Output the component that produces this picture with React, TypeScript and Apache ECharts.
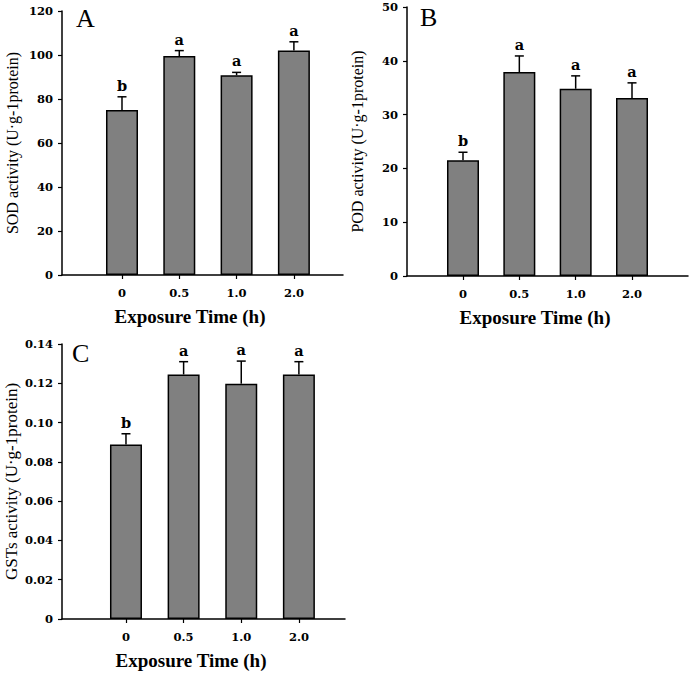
import React, { useEffect, useRef } from "react";
import * as echarts from "echarts";

const categories = ["0", "0.5", "1.0", "2.0"];

const sodMean = [75, 99.5, 90.8, 102.1];
const sodSD = [6, 2.5, 1.3, 3.9];
const sodLetters = ["b", "a", "a", "a"];

const podMean = [21.5, 37.9, 34.8, 33.1];
const podSD = [1.5, 3.0, 2.4, 2.8];
const podLetters = ["b", "a", "a", "a"];

const gstMean = [0.0888, 0.1245, 0.1198, 0.1245];
const gstSD = [0.0055, 0.0065, 0.0115, 0.0065];
const gstLetters = ["b", "a", "a", "a"];

const panelLetters = ["A", "B", "C"];
const yTitles = [
  "SOD activity (U·g-1protein)",
  "POD activity (U·g-1protein)",
  "GSTs activity (U·g-1protein)",
];
const xTitle = "Exposure Time (h)";

const SERIF = "'Liberation Serif', 'Times New Roman', serif";
const TICKFONT = "'DejaVu Serif', serif";

export default function App() {
  const ref = useRef<HTMLDivElement>(null);
  useEffect(() => {
    document.body.style.margin = "0";
    const chart = echarts.init(ref.current!, null, { renderer: "svg" });

    const panels = [
      { mean: sodMean, sd: sodSD, letters: sodLetters, ymax: 120, interval: 20, xmin: -1.047, xmax: 3.857, titleSize: 16 },
      { mean: podMean, sd: podSD, letters: podLetters, ymax: 50, interval: 10, xmin: -0.994, xmax: 3.994, titleSize: 16 },
      { mean: gstMean, sd: gstSD, letters: gstLetters, ymax: 0.14, interval: 0.02, xmin: -1.11, xmax: 3.8, titleSize: 17 },
    ];
    const grids = [
      { left: 62, top: 11, width: 281, height: 264 },
      { left: 407, top: 7, width: 281, height: 269 },
      { left: 62, top: 344, width: 283, height: 275 },
    ];
    const letterPos = [
      [76, 18.5],
      [420, 17],
      [72, 353.5],
    ];

    const axisLine = { show: true, onZero: false, lineStyle: { color: "#000", width: 1.5 } };

    const option: any = {
      animation: false,
      backgroundColor: "#fff",
      grid: grids.map((g) => ({ ...g, containLabel: false })),
      xAxis: panels.map((p, i) => ({
        type: "value",
        gridIndex: i,
        min: p.xmin,
        max: p.xmax,
        splitLine: { show: false },
        axisLine,
        axisTick: {
          show: true,
          customValues: [0, 1, 2, 3],
          length: 4,
          lineStyle: { color: "#000", width: 1.2 },
        },
        axisLabel: {
          customValues: [0, 1, 2, 3],
          formatter: (v: number) => categories[Math.round(v)] ?? "",
          color: "#000",
          fontFamily: TICKFONT,
          fontWeight: "bold",
          fontSize: 11.5,
          margin: 12,
        },
        name: xTitle,
        nameLocation: "middle",
        nameGap: 32,
        nameTextStyle: {
          fontFamily: SERIF,
          fontWeight: "bold",
          fontSize: 19,
          color: "#000",
          padding: [0, 25, 0, 0],
        },
      })),
      yAxis: panels.map((p, i) => ({
        type: "value",
        gridIndex: i,
        min: 0,
        max: p.ymax,
        interval: p.interval,
        splitLine: { show: false },
        axisLine,
        axisTick: { show: true, length: 4, lineStyle: { color: "#000", width: 1.2 } },
        axisLabel: {
          color: "#000",
          fontFamily: TICKFONT,
          fontWeight: "bold",
          fontSize: 11.5,
          margin: 9,
          formatter: (v: number) =>
            p.ymax < 1 ? (v === 0 ? "0" : v.toFixed(2)) : String(Math.round(v)),
        },
        name: yTitles[i],
        nameLocation: "middle",
        nameGap: 42,
        nameRotate: 90,
        nameTextStyle: { fontFamily: SERIF, fontSize: p.titleSize, color: "#000" },
      })),
      series: [
        ...panels.map((p, i) => ({
          type: "bar",
          xAxisIndex: i,
          yAxisIndex: i,
          barWidth: 32,
          data: p.mean.map((v, k) => [k, v]),
          itemStyle: { color: "#808080", borderColor: "#000", borderWidth: 1.5 },
          z: 2,
        })),
        ...panels.map((p, i) => ({
          type: "custom",
          xAxisIndex: i,
          yAxisIndex: i,
          z: 3,
          data: p.mean.map((v, k) => [k, v, p.sd[k]]),
          renderItem: (params: any, api: any) => {
            const x = api.value(0);
            const m = api.value(1);
            const s = api.value(2);
            const base = api.coord([x, m]);
            const top = api.coord([x, m + s]);
            const st = { stroke: "#000", lineWidth: 1.5 };
            return {
              type: "group",
              children: [
                { type: "line", shape: { x1: base[0], y1: base[1], x2: top[0], y2: top[1] }, style: st },
                { type: "line", shape: { x1: top[0] - 4.5, y1: top[1], x2: top[0] + 4.5, y2: top[1] }, style: st },
                {
                  type: "text",
                  x: top[0],
                  y: top[1] - 4,
                  style: {
                    text: p.letters[params.dataIndex],
                    align: "center",
                    verticalAlign: "bottom",
                    fontFamily: TICKFONT,
                    fontWeight: "bold",
                    fontSize: 14.5,
                    fill: "#000",
                  },
                },
              ],
            };
          },
        })),
      ],
      graphic: panelLetters.map((t, i) => ({
        type: "text",
        x: letterPos[i][0],
        y: letterPos[i][1],
        style: {
          text: t,
          align: "left",
          verticalAlign: "middle",
          fontFamily: SERIF,
          fontSize: 26,
          fill: "#000",
        },
      })),
    };

    chart.setOption(option);
    return () => chart.dispose();
  }, []);

  return <div ref={ref} style={{ width: 691, height: 673 }} />;
}
